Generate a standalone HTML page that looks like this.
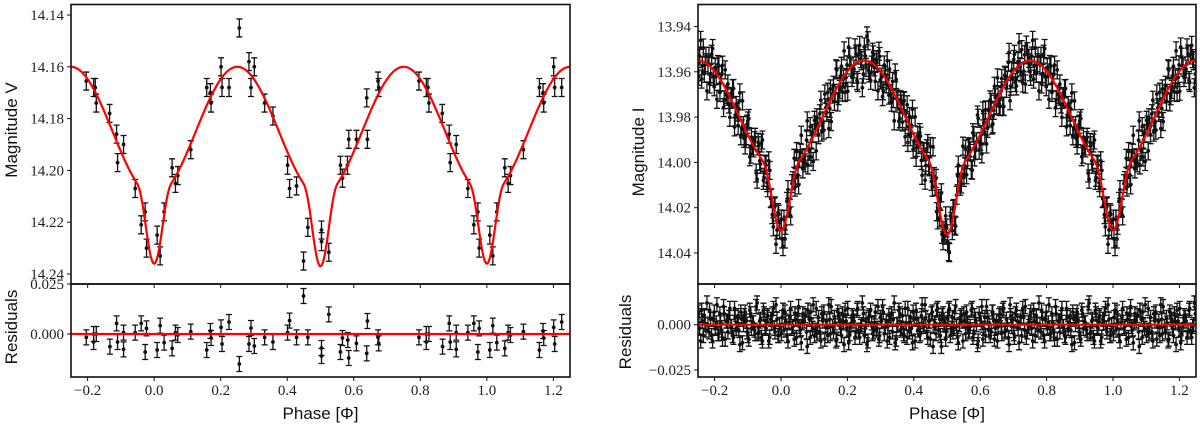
<!DOCTYPE html>
<html><head><meta charset="utf-8"><style>
html,body{margin:0;padding:0;background:#fff;}
svg{display:block;}
.tk{font-family:"Liberation Serif",serif;font-size:15px;fill:#222;}
.lb{font-family:"Liberation Sans",sans-serif;font-size:17px;fill:#111;}
</style></head><body>
<svg id="fig" width="1200" height="424" viewBox="0 0 1200 424" xmlns="http://www.w3.org/2000/svg"></svg>
<script>
// ---- Left panel (V band) data ----
const vPhases = [0.009,0.018,0.030,0.054,0.064,0.071,0.110,0.158,0.169,0.171,0.201,0.204,0.225,0.256,0.285,0.291,0.301,0.332,0.357,0.401,0.407,0.428,0.449,0.462,0.503,0.503,0.525,0.560,0.566,0.581,0.585,0.608,0.639,0.641,0.673,0.675,0.796,0.818,0.823,0.826,0.866,0.887,0.890,0.908,0.943,0.961,0.973,0.977];
const vMags = [14.225,14.233,14.216,14.199,14.205,14.202,14.192,14.168,14.170,14.174,14.160,14.168,14.168,14.145,14.158,14.168,14.160,14.174,14.179,14.198,14.207,14.206,14.235,14.222,14.223,14.2275,14.2316,14.198,14.203,14.198,14.188,14.188,14.172,14.188,14.1655,14.168,14.1655,14.168,14.168,14.174,14.178,14.186,14.197,14.190,14.207,14.221,14.216,14.230];
const vResPhases = [0.009,0.018,0.030,0.054,0.064,0.071,0.110,0.158,0.169,0.171,0.201,0.204,0.225,0.256,0.285,0.291,0.301,0.332,0.357,0.401,0.407,0.428,0.449,0.462,0.503,0.503,0.525,0.560,0.566,0.582,0.585,0.608,0.639,0.641,0.673,0.675,0.796,0.818,0.818,0.826,0.867,0.887,0.890,0.908,0.908,0.943,0.961,0.973,0.977];
const vResiduals = [-0.008,0.0042,-0.0043,-0.0072,0.0007,-0.0005,0.0012,-0.008,0.0015,-0.002,0.0033,-0.005,0.006,-0.015,-0.005,0.003,-0.006,-0.0017,-0.004,0.0007,0.0067,-0.0017,0.019,-0.0017,-0.007,-0.011,0.0098,-0.009,-0.002,-0.003,-0.012,-0.0047,-0.0097,0.0065,-0.0017,-0.0047,-0.0017,0.000,-0.004,0.000,-0.0063,0.0053,-0.004,0.0007,-0.0077,0.0007,0.0053,-0.009,0.0028];
// ---- Right panel (I band) data: phases (thousandths) and residuals (thousandths of mag) ----
const iPhasesA = [3,9,12,18,24,29,33,40,44,51,55,61,66,70,77,81,88,92,97,104,108,113,120,126,129,135,141,147,151,158,163,168,174,179,185,190,196,201,207,211,218,223,229,233,240,245,251,256,262,266,273,278,284,289,295,299,306,311,317,322,327,333,338,344,349,355,360,366,371,377,382,387,393,398,404,409,415,420,425,431,436,442,447,453,458,464,469,475,480,485,491,496,502,507,513,518,523,529,534,540,545,551,556,562,567,573,578,583,589,594,600,605,611,616,622,627,633,638,643,649,654,660,665,671,676,682,687,692,698,703,709,714,720,725,731,736,742,747,752,758,763,769,774,780,785,791,796,802,807,813,818,824,829,835,840,846,851,857,862,868,873,879,884,889,895,900,906,911,917,922,928,933,938,944,949,955,960,966,971,977,982,988,993];
const iResidualsA = [4,-3,7,-6,1,9,-2,-8,3,5,-1,-10,6,2,-4,8,-7,0,11,-3,-5,4,-9,2,7,-1,-6,3,10,-4,1,-8,5,-2,6,-11,2,9,-5,0,4,-7,8,-3,-1,12,-6,3,-9,5,1,-4,7,-2,-8,4,10,-5,2,-1,-7,6,3,-10,0,8,-3,5,-6,1,9,-4,-2,7,-9,3,0,-5,11,-1,4,-7,2,6,-12,1,8,-3,-6,5,0,-8,3,9,-2,-4,7,-1,-10,4,2,6,-5,1,-3,8,-7,5,0,-9,3,10,-2,-6,4,1,-4,7,-8,2,-1,6,-5,9,-3,0,-11,5,3,-7,8,-2,1,-6,4,10,-4,-1,7,-9,2,5,-3,0,8,-6,3,-2,11,-5,1,-8,6,2,-4,9,-1,-7,4,0,-3,7,-10,5,2,-6,8,-2,1,-5,12,-4,3,-9,6,-2,5,-7,1,9,-4,3,-6,8,-1,2,-5,7,-3,10,-8,0];
const iPhasesB = [1,6,14,21,27,36,42,47,53,58,64,73,79,85,90,95,101,106,111,117,123,132,138,144,149,155,161,166,171,177,182,188,193,199,204,214,220,226,231,237,243,248,254,259,264,270,276,281,287,292,297,303,308,314,320,325,330,336,341,347,352,358,363,369,374,380,385,390,396,401,407,412,418,423,428,434,439,445,450,456,461,467,472,478,483,488,494,499,505,510,516,521,526,532,537,543,548,554,559,565,570,576,581,586,592,597,603,608,614,619,625,630,636,641,646,652,657,663,668,674,679,685,690,695,701,706,712,717,723,728,734,739,745,750,755,761,766,772,777,783,788,794,799,805,810,816,821,827,832,838,843,849,854,860,865,871,876,882,887,892,898,903,909,914,920,925,931,936,941,947,952,958,963,969,974,980,985,991,996];
const iResidualsB = [-5,8,2,-9,4,-1,6,-7,10,-3,1,5,-12,3,7,-2,-6,9,0,-4,6,-8,2,11,-5,-1,4,-9,7,3,-6,1,8,-3,-10,5,2,-4,9,-7,0,6,-2,-11,4,8,-5,1,-3,10,-6,2,7,-1,-9,5,3,-4,12,-8,0,6,-2,-5,9,-7,1,4,-10,3,8,-3,-6,5,0,11,-4,2,-8,7,-1,-5,9,3,-12,6,1,-3,8,-6,4,-2,10,-7,0,5,-9,2,7,-4,-1,9,-5,3,-11,6,1,-8,4,10,-3,-6,7,2,-2,-9,5,0,8,-4,3,-7,11,-1,-5,6,2,-10,4,9,-3,-7,1,5,-2,8,-6,0,12,-4,3,-9,7,1,-5,6,-3,10,-8,2,4,-1,-6,9,-2,5,-11,3,0,7,-4,-8,6,1,-3,10,-5,2,-7,8,-1,4,-9,3,6,-2,11,-6,0,5,-4,-10,7,2,-3,9,-8,1,6,-5,3,-1,8,-7,4];
const xTicks = [-0.2,0.0,0.2,0.4,0.6,0.8,1.0,1.2];
const vTicks = [14.14,14.16,14.18,14.20,14.22,14.24];
const vResTicks = [0.025,0.000];
const iTicks = [13.94,13.96,13.98,14.00,14.02,14.04];
const iResTicks = [0.000,-0.025];

const NS="http://www.w3.org/2000/svg";
const svg=document.getElementById('fig');
function mk(tag,attrs,parent){const e=document.createElementNS(NS,tag);for(const k in attrs)e.setAttribute(k,attrs[k]);(parent||svg).appendChild(e);return e;}

function model(p,base,A,D0,D5,w){
  const broad=base+A*(1+Math.cos(4*Math.PI*p))/2;
  const q=((p%1)+1)%1;
  const d0=Math.min(q,1-q), d5=Math.abs(q-0.5);
  let e=0;
  if(d0<w)e+=D0*Math.pow(1-(d0/w)*(d0/w),3);
  if(d5<w)e+=D5*Math.pow(1-(d5/w)*(d5/w),3);
  return broad+e;
}
function expand(ps){const out=[];ps.forEach((p,i)=>{out.push([p,i]);if(p>=0.75)out.push([p-1,i]);if(p<=0.25)out.push([p+1,i]);});return out;}

function panel(cfg){
  const g=mk('g',{});
  
  
  const X=p=>cfg.x0+(p+0.25)/1.5*(cfg.x1-cfg.x0);
  const Ym=cfg.Ym, Yr=cfg.Yr;
  const clipId=cfg.name+'-clip', clipId2=cfg.name+'-clip2';
  const defs=mk('defs',{},g);
  const c1=mk('clipPath',{id:clipId},defs);mk('rect',{x:cfg.x0,y:cfg.yT,width:cfg.x1-cfg.x0,height:cfg.yM-cfg.yT},c1);
  const c2=mk('clipPath',{id:clipId2},defs);mk('rect',{x:cfg.x0,y:cfg.yM,width:cfg.x1-cfg.x0,height:cfg.yB-cfg.yM},c2);
  const gm=mk('g',{'clip-path':'url(#'+clipId+')'},g);
  
  
  const gr=mk('g',{'clip-path':'url(#'+clipId2+')'},g);
  
  
  function pt(par,x,y,eb){
    mk('path',{d:`M${x},${y-eb}V${y+eb}M${x-3},${y-eb}H${x+3}M${x-3},${y+eb}H${x+3}`,stroke:'#111','stroke-width':1.3,fill:'none'},par);
    const c=mk('circle',{cx:x,cy:y,r:1.9,fill:'#111'},par);
    
    
  }
  expand(cfg.mp).forEach(([p,i])=>{const m=cfg.mm(i,cfg.mp[i]);pt(gm,X(p),Ym(m),cfg.ebM);});
  let d='';for(let k=0;k<=600;k++){const p=-0.25+1.5*k/600;d+=(k?'L':'M')+X(p).toFixed(2)+','+Ym(cfg.model(p)).toFixed(2);}
  const cur=mk('path',{d:d,stroke:'#ff0000','stroke-width':2.2,fill:'none'},gm);
  
  
  expand(cfg.rp).forEach(([p,i])=>{pt(gr,X(p),Yr(cfg.rv[i]),cfg.ebR);});
  const zl=mk('line',{x1:cfg.x0,x2:cfg.x1,y1:Yr(0),y2:Yr(0),stroke:'#ff0000','stroke-width':2.2},gr);
  
  
  mk('rect',{x:cfg.x0,y:cfg.yT,width:cfg.x1-cfg.x0,height:cfg.yM-cfg.yT,fill:'none',stroke:'#111','stroke-width':1.6},g);
  mk('rect',{x:cfg.x0,y:cfg.yM,width:cfg.x1-cfg.x0,height:cfg.yB-cfg.yM,fill:'none',stroke:'#111','stroke-width':1.6},g);
  xTicks.forEach(v=>{const x=X(v);
    mk('line',{x1:x,x2:x,y1:cfg.yB,y2:cfg.yB+4,stroke:'#111','stroke-width':1},g);
    mk('line',{x1:x,x2:x,y1:cfg.yM,y2:cfg.yM+4,stroke:'#111','stroke-width':1},g);
    const t=mk('text',{x:x,y:cfg.yB+18,'text-anchor':'middle',class:'tk'},g);t.textContent=(v<0?'\u2212':'')+Math.abs(v).toFixed(1);
    
    
  });
  cfg.mt.forEach(v=>{const y=Ym(v);
    mk('line',{x1:cfg.x0-4,x2:cfg.x0,y1:y,y2:y,stroke:'#111','stroke-width':1},g);
    const t=mk('text',{x:cfg.x0-7,y:y+5,'text-anchor':'end',class:'tk'},g);t.textContent=v.toFixed(2);
    
    
  });
  cfg.rt.forEach(v=>{const y=Yr(v);
    mk('line',{x1:cfg.x0-4,x2:cfg.x0,y1:y,y2:y,stroke:'#111','stroke-width':1},g);
    const t=mk('text',{x:cfg.x0-7,y:y+5,'text-anchor':'end',class:'tk'},g);t.textContent=(v<0?'\u2212':'')+Math.abs(v).toFixed(3);
    
    
  });
  const xl=mk('text',{x:(cfg.x0+cfg.x1)/2,y:419,'text-anchor':'middle',class:'lb'},g);xl.textContent='Phase [\u03A6]';
  
  
  const yl=mk('text',{x:0,y:0,'text-anchor':'middle',class:'lb',transform:`translate(${cfg.ylx},${cfg.yly}) rotate(-90)`},g);yl.textContent=cfg.ylabel;
  
  
  const rl=mk('text',{x:0,y:0,'text-anchor':'middle',class:'lb',transform:`translate(${cfg.rlx},${cfg.rly}) rotate(-90)`},g);rl.textContent='Residuals';
  
  
}

const vModel=p=>model(p,14.16,0.05,0.026,0.027,0.055);
panel({name:'v-band-panel',x0:71,x1:570,yT:4.5,yM:284,yB:377,
  Ym:m=>15+(m-14.14)*2590, Yr:r=>334-r*2000,
  mp:vPhases, mm:(i)=>vMags[i], rp:vResPhases, rv:vResiduals,
  model:vModel, ebM:9, ebR:7.5, mt:vTicks, rt:vResTicks,
  ylabel:'Magnitude V', ylx:17, yly:130, rlx:17, rly:327});

const iModel=p=>model(p,13.955,0.05,0.025,0.027,0.06);
const nA=Math.min(iPhasesA.length,iResidualsA.length), nB=Math.min(iPhasesB.length,iResidualsB.length);
const iP=iPhasesA.slice(0,nA).concat(iPhasesB.slice(0,nB)).map(v=>v/1000);
const iR=iResidualsA.slice(0,nA).concat(iResidualsB.slice(0,nB)).map(v=>v/1000);
panel({name:'i-band-panel',x0:698,x1:1196,yT:4.5,yM:284,yB:377,
  Ym:m=>26.5+(m-13.94)*2265, Yr:r=>324.7-r*1812,
  mp:iP, mm:(i,p)=>iModel(p)+iR[i], rp:iP, rv:iR,
  model:iModel, ebM:9, ebR:7, mt:iTicks, rt:iResTicks,
  ylabel:'Magnitude I', ylx:644, yly:152, rlx:631, rly:332});
</script>
</body></html>
